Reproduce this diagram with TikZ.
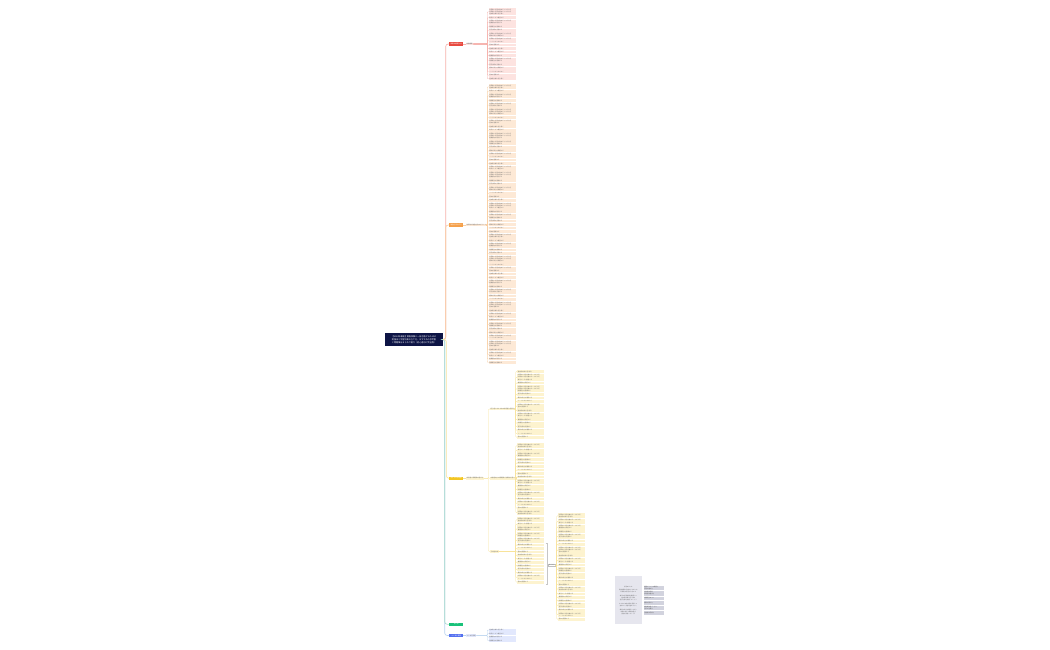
\documentclass[tikz,border=0pt]{standalone}
\usepackage{fontspec}
\newfontfamily\jp{Noto Sans CJK JP}
\definecolor{rootc}{HTML}{0D1445}
\definecolor{cR}{HTML}{E8493F}
\definecolor{cO}{HTML}{F5A04A}
\definecolor{cY}{HTML}{F3C623}
\definecolor{cG}{HTML}{19C27A}
\definecolor{cB}{HTML}{5470F0}
\definecolor{lfR}{HTML}{FDE3E0}
\definecolor{lfO}{HTML}{FDE9D6}
\definecolor{lfY}{HTML}{FDF3CF}
\definecolor{lfB}{HTML}{E2E8FD}
\definecolor{lnR}{HTML}{F6B1AB}
\definecolor{lnO}{HTML}{F9CFA3}
\definecolor{lnY}{HTML}{F8E39A}
\definecolor{lnG}{HTML}{A8DCCB}
\definecolor{lnB}{HTML}{B9D3F0}
\definecolor{gbx}{HTML}{E6E6EE}
\definecolor{gbx2}{HTML}{D2D3DE}
\newcommand\leaffont{\jp\fontsize{1.45}{2.2}\selectfont}
\newcommand\fullline{計画的に学習を進めることが大切}
\newcommand\lastline[1]{\ifcase#1 基本を理解する\or 過去問を繰り返し解く\or 毎日少しずつ復習する\or 重要語句を暗記する\or 時間配分を意識する\or 苦手分野を克服する\or 模試で実力を確認する\or ノートにまとめておく\fi}
\newcommand\mkleaf[2]{\ifcase#1\or\lastline{#2}\or\fullline\\\lastline{#2}\or\fullline\\\fullline\\\lastline{#2}\else\fullline\\\fullline\\\fullline\\\lastline{#2}\fi}
% #1 prefix, #2 parent node, #3 x, #4 ytop, #5 colour letter, #6 list of line counts
\newcommand\leafcol[6]{%
  \xdef\ycur{#4}%
  \foreach \n [count=\i] in {#6} {%
    \pgfmathsetmacro\hh{2.2*\n+0.6}%
    \pgfmathtruncatemacro\mm{mod(\i,8)}%
    \node[leaf,fill=lf#5,minimum height=\hh pt] (#1-\i) at (#3,\ycur) {\mkleaf{\n}{\mm}};%
    \draw[conn,ln#5] (#2.east) -| ([xshift=-1.2pt]#1-\i.west) -- (#1-\i.west);%
    \pgfmathsetmacro\ynew{\ycur+\hh+0.7}%
    \xdef\ycur{\ynew}%
  }%
}
\begin{document}
\begin{tikzpicture}[x=1pt,y=-1pt,
  leaf/.style={rectangle,anchor=north west,inner xsep=0.6pt,inner ysep=0pt,text width=26pt,align=left,font=\leaffont,text=black!60},
  conn/.style={line width=0.35pt,rounded corners=0.8pt},
  rootconn/.style={line width=0.6pt,rounded corners=2.5pt},
  mainnode/.style={rectangle,minimum width=14pt,minimum height=3.6pt,inner sep=0pt,font=\jp\fontsize{1.6}{2}\selectfont,text=white,anchor=west},
  childnode/.style={rectangle,inner xsep=0.5pt,inner ysep=0.3pt,minimum height=2.6pt,font=\jp\fontsize{1.5}{2}\selectfont,text=black!60,anchor=west},
  cell/.style={rectangle,fill=gbx2,anchor=north west,text width=19pt,minimum height=3.6pt,inner xsep=0.6pt,inner ysep=0.5pt,align=left,font=\jp\fontsize{1.4}{2.1}\selectfont,text=black!65},
  brk/.style={line width=0.4pt,gray!45},
  ]
\useasboundingbox (0,0) rectangle (1050,650);
\fill[white] (0,0) rectangle (1050,650);

% root
\node[rectangle,fill=rootc,text=white,minimum width=58pt,minimum height=13pt,inner sep=0.5pt,align=center,
  font=\jp\fontsize{2.1}{3}\selectfont] (root) at (414,339.5)
  {【2024年最新】資格試験に一発合格するための\\勉強法と学習計画の立て方、おすすめの参考書\\と問題集をまとめて紹介（初心者向け完全版）};

% main branches
\node[mainnode,fill=cR] (mR) at (449,44) {試験の概要とは};
\node[mainnode,fill=cO] (mO) at (449,225) {勉強方法のコツ};
\node[mainnode,fill=cY] (mY) at (449,478.3) {おすすめ参考書};
\node[mainnode,fill=cG] (mG) at (449,624.3) {まとめ};
\node[mainnode,fill=cB] (mB) at (449,635.5) {よくある質問};

\draw[rootconn,lnR] (root.east) -- ++(2.5,0) |- (mR.west);
\draw[rootconn,lnO] (root.east) -- ++(2.5,0) |- (mO.west);
\draw[rootconn,lnB] (root.east) -- ++(1.5,0) |- (mB.west);
\draw[rootconn,lnG] (root.east) -- ++(1.5,0) |- (mG.west);
\draw[rootconn,lnY] (root.east) -- ++(3.2,0) |- (mY.west);

% children
\node[childnode,fill=lfR] (cR1) at (466,44) {試験概要};
\node[childnode,fill=lfO] (cO1) at (466,225) {効率的な勉強方法のポイント};
\node[childnode,fill=lfY] (cY1) at (466,478.3) {参考書と問題集の選び方};
\node[childnode,fill=lfB] (cB1) at (466,635.5) {よくある質問};
\draw[conn,lnR] (mR.east) -- (cR1.west);
\draw[conn,lnO] (mO.east) -- (cO1.west);
\draw[conn,lnY] (mY.east) -- (cY1.west);
\draw[conn,lnB] (mB.east) -- (cB1.west);

% yellow sub children
\node[childnode,fill=lfY] (Ys1) at (490,409) {初心者におすすめの参考書と選び方};
\node[childnode,fill=lfY] (Ys2) at (490,478.3) {中級者向けの問題集と効果的な使い方};
\node[childnode,fill=lfY] (Ys3) at (490,551.5) {その他の本};
\foreach \s in {Ys1,Ys2,Ys3} \draw[conn,lnY] (cY1.east) -| ([xshift=-1.5pt]\s.west) -- (\s.west);

% leaf columns
\leafcol{R}{cR1}{488.5}{8}{R}{3,1,2,1,1,2,2,1,1,1,1,2,1,1,1,1,1}
\leafcol{O}{cO1}{488.5}{84}{O}{2,1,2,1,2,3,1,2,1,1,3,2,1,1,2,1,1,2,3,1,1,2,1,1,1,3,1,2,1,1,1,1,2,1,2,1,1,3,1,2,1,1,2,1,2,1,1,3,1,2,1,2,1,1,2,3,1,2,1,1}
\leafcol{YA}{Ys1}{517}{370}{Y}{1,3,1,3,1,1,1,2,1,2,1,1,1,1,1,1}
\leafcol{YB}{Ys2}{517}{443}{Y}{2,1,2,1,1,1,1,1,1,2,1,1,2,1,2,1,2}
\leafcol{YC}{Ys3}{517}{517}{Y}{2,1,2,2,2,1,1,1,1,1,1,1,1,1,2,1}
\leafcol{BL}{cB1}{488.5}{628.5}{B}{1,1,1,1}

% bracket and summary
\draw[brk] ([xshift=1pt]YC-6.north east) -- ++(1.3,0) coordinate (bv) |- ([xshift=1pt]YC-16.south east);
\node[rectangle,draw=gray!50,line width=0.3pt,fill=white,inner xsep=0.6pt,inner ysep=0.3pt,font=\jp\fontsize{1.5}{2}\selectfont,text=black!60,anchor=west] (sum) at (548.2,565.3) {ポイント};
\draw[brk] (sum.west) -- (sum.west -| bv);
\leafcol{S}{sum}{558}{513}{Y}{2,2,2,1,2,1,1,3,1,2,1,2,1,1,1,1,2,1,1,1,2,1,2,1}

% grey note boxes
\node[rectangle,fill=gbx,anchor=north west,text width=26pt,minimum height=48pt,inner xsep=0.6pt,inner ysep=1pt,align=center,
  font=\jp\fontsize{1.4}{2.1}\selectfont,text=black!60] (note) at (614.5,576)
  {学習のまとめ\\[1.6pt]
   資格試験に合格するためには\\計画的な学習が大切です\\[1.6pt]
   毎日の学習時間を確保して\\過去問を繰り返し解き\\苦手分野を克服しましょう\\[1.6pt]
   おすすめの参考書を活用して\\効率よく学習を進めること\\[1.6pt]
   模試で実力を確認しながら\\本番に向けて準備を整え\\合格を目指しましょう};
\node[cell] (t1) at (643.5,585.5) {重要ポイントの確認と\\学習の進め方};
\node[cell] (t2) at ([yshift=-0.6pt]t1.south west) {過去問の活用\\参考書の選び方};
\node[cell] (t3) at ([yshift=-0.6pt]t2.south west) {時間配分のコツ};
\node[cell] (t4) at ([yshift=-0.6pt]t3.south west) {模試の受け方};
\node[cell] (t5) at ([yshift=-0.6pt]t4.south west) {直前期の過ごし方と\\当日の注意点};
\node[cell] (t6) at ([yshift=-0.6pt]t5.south west) {合格後の手続き};
\end{tikzpicture}
\end{document}
